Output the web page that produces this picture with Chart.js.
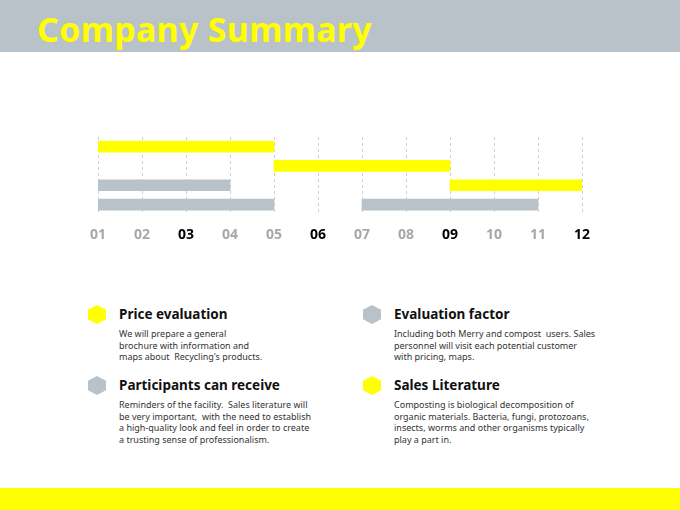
<!DOCTYPE html>
<html><head><meta charset="utf-8">
<script src="https://cdn.jsdelivr.net/npm/chart.js@4"></script>
<style>
body{margin:0;width:680px;height:510px;position:relative;background:#fff;font-family:"Noto Sans",sans-serif;overflow:hidden}
.hdr{position:absolute;left:0;top:0;width:680px;height:52px;background:#b8c2c8}
.hdr h1{margin:0;position:absolute;left:37px;top:6px;font-size:34px;color:#ffff00;font-weight:bold;letter-spacing:0.3px}
.foot{position:absolute;left:0;top:488px;width:680px;height:22px;background:#ffff00}
#wrap{position:absolute;left:0;top:120px;width:680px;height:135px}
.item{position:absolute;width:250px}
.item h3{margin:0;font-size:13.5px;font-weight:bold;color:#111}
.item p{margin:5px 0 0;font-size:9px;line-height:11.5px;color:#333}
.hex{position:absolute;width:18px;height:19px;clip-path:polygon(50% 0,100% 25%,100% 75%,50% 100%,0 75%,0 25%)}
</style></head><body>
<div class="hdr"><h1>Company Summary</h1></div>
<div id="wrap"><canvas id="c"></canvas></div>
<div class="hex" style="left:88px;top:305px;background:#ffff00"></div>
<div class="hex" style="left:363px;top:305px;background:#b8c2c8"></div>
<div class="hex" style="left:88px;top:376px;background:#b8c2c8"></div>
<div class="hex" style="left:363px;top:376px;background:#ffff00"></div>
<div class="item" style="left:119px;top:305px"><h3>Price evaluation</h3><p>We will prepare a general<br>brochure with information and<br>maps about &nbsp;Recycling's products.</p></div>
<div class="item" style="left:394px;top:305px"><h3>Evaluation factor</h3><p>Including both Merry and compost &nbsp;users. Sales<br>personnel will visit each potential customer<br>with pricing, maps.</p></div>
<div class="item" style="left:119px;top:376px"><h3>Participants can receive</h3><p>Reminders of the facility. &nbsp;Sales literature will<br>be very important, &nbsp;with the need to establish<br>a high-quality look and feel in order to create<br>a trusting sense of professionalism.</p></div>
<div class="item" style="left:394px;top:376px"><h3>Sales Literature</h3><p>Composting is biological decomposition of<br>organic materials. Bacteria, fungi, protozoans,<br>insects, worms and other organisms typically<br>play a part in.</p></div>
<div class="foot"></div>
<script>
const rows = ['r1','r2','r3','r4'];
const months = ['01','02','03','04','05','06','07','08','09','10','11','12'];
const boldMonths = ['03','06','09','12'];
const yellowBars = [[1,5],[5,9],[9,12],null];
const grayBars = [null,null,[1,4],[1,5]];
const grayBars2 = [null,null,null,[7,11]];

new Chart(document.getElementById('c'), {
  type:'bar',
  data:{labels:rows, datasets:[
    {data:yellowBars, backgroundColor:'#ffff00'},
    {data:grayBars, backgroundColor:'#b8c2c8'},
    {data:grayBars2, backgroundColor:'#b8c2c8'}
  ]},
  options:{
    indexAxis:'y', responsive:true, maintainAspectRatio:false, animation:false,
    layout:{padding:{left:98,right:98,top:17,bottom:0}},
    datasets:{bar:{grouped:false, barThickness:11, borderSkipped:false}},
    plugins:{legend:{display:false},tooltip:{enabled:false}},
    scales:{
      y:{display:false},
      x:{type:'linear',min:1,max:12,
        grid:{color:'#cfcfcf',drawTicks:false,tickBorderDash:[0]},
        border:{display:false,dash:[3,3]},
        ticks:{stepSize:1,padding:12,
          callback:v=>months[v-1],
          color:c=>boldMonths.includes(months[c.tick.value-1])?'#000':'#a8a8a8',
          font:{family:'Open Sans',size:14,weight:'bold'}}
      }
    }
  }
});
</script>
</body></html>
